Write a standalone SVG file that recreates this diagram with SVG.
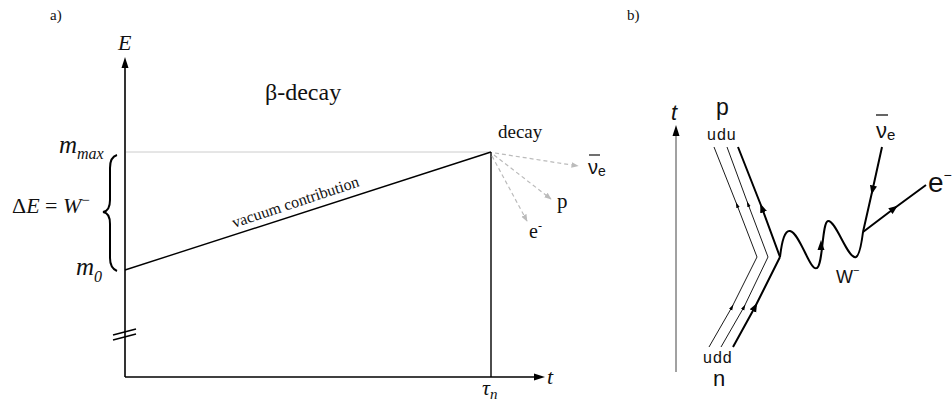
<svg xmlns="http://www.w3.org/2000/svg" width="952" height="407" viewBox="0 0 952 407">
<style>
.serif{font-family:"Liberation Serif","DejaVu Serif",serif;fill:#111}
.sans{font-family:"Liberation Sans","DejaVu Sans",sans-serif;fill:#111}
.it{font-style:italic}
.ax{stroke:#000;stroke-width:1.6;fill:none}
.thin{stroke:#000;stroke-width:0.9;fill:none}
.thick{stroke:#000;stroke-width:2;fill:none}
.dash{stroke:#bbb;stroke-width:1.2;stroke-dasharray:4 3;fill:none}
</style>
<defs>
<marker id="ah" viewBox="0 0 10 10" refX="5" refY="5" markerWidth="4.5" markerHeight="4.5" orient="auto"><path d="M0,1 L10,5 L0,9 z" fill="#000"/></marker>
<marker id="ahs" viewBox="0 0 10 10" refX="5" refY="5" markerWidth="6.5" markerHeight="6.5" orient="auto"><path d="M0,2 L10,5 L0,8 z" fill="#000"/></marker>
<marker id="gh" viewBox="0 0 10 10" refX="9" refY="5" markerWidth="6" markerHeight="6" orient="auto"><path d="M0,1 L10,5 L0,9 z" fill="#bbb"/></marker>
</defs>
<rect width="952" height="407" fill="#fff"/>

<!-- Panel a -->
<g id="panel-a-label"><text x="50" y="20" class="serif" font-size="15">a)</text></g>
<g id="axes-a">
<line x1="125" y1="66" x2="125" y2="377" class="ax"/>
<polygon points="125,57 121.5,68 128.5,68" fill="#000"/>
<line x1="125" y1="377" x2="535" y2="377" class="ax"/>
<polygon points="545,377 534,373.5 534,380.5" fill="#000"/>
<text x="118" y="50" class="serif it" font-size="22">E</text>
<text x="547" y="384" class="serif it" font-size="22">t</text>
<text x="482" y="395" class="serif it" font-size="22">τ<tspan font-size="15" dy="4">n</tspan></text>
<line x1="113" y1="335" x2="136" y2="329" stroke="#000" stroke-width="1.3"/>
<line x1="113" y1="340" x2="136" y2="334" stroke="#000" stroke-width="1.3"/>
</g>
<g id="title-a"><text x="265" y="100" class="serif" font-size="24">β-decay</text></g>
<g id="levels">
<line x1="126" y1="152" x2="490" y2="152" stroke="#ccc" stroke-width="1"/>
<text x="59" y="153" class="serif it" font-size="25">m<tspan font-size="16" dy="6">max</tspan></text>
<text x="76" y="275" class="serif it" font-size="25">m<tspan font-size="16" dy="7">0</tspan></text>
<text x="12" y="213" class="serif" font-size="22">Δ<tspan class="it">E</tspan> = <tspan class="it">W</tspan><tspan font-size="15" dy="-8">−</tspan></text>
<path d="M117,155 Q110,157 110,168 L110,200 Q110,211 103,212 Q110,213 110,224 L110,258 Q110,268 117,271" stroke="#000" stroke-width="2" fill="none"/>
</g>
<g id="vacuum">
<line x1="125" y1="270" x2="491" y2="152" stroke="#000" stroke-width="1.4"/>
<text transform="translate(234,228) rotate(-18.4)" class="serif" font-size="16">vacuum contribution</text>
<line x1="491" y1="152" x2="491" y2="377" stroke="#000" stroke-width="1.4"/>
</g>
<g id="decay">
<text x="498" y="138" class="serif" font-size="19">decay</text>
<line x1="495" y1="153" x2="578" y2="166" class="dash" marker-end="url(#gh)"/>
<line x1="494" y1="155" x2="551" y2="199" class="dash" marker-end="url(#gh)"/>
<line x1="492" y1="156" x2="527" y2="221" class="dash" marker-end="url(#gh)"/>
<text x="588" y="174" class="sans" font-size="20">ν<tspan font-size="14" dy="2">e</tspan></text>
<line x1="589" y1="155" x2="600" y2="155" stroke="#111" stroke-width="1.2"/>
<text x="557" y="208" class="serif" font-size="21">p</text>
<text x="529" y="238" class="serif" font-size="20">e<tspan font-size="12" dy="-8">-</tspan></text>
</g>

<!-- Panel b -->
<g id="panel-b-label"><text x="627" y="20" class="serif" font-size="15">b)</text></g>
<g id="time-axis-b">
<line x1="676" y1="135" x2="676" y2="372" stroke="#444" stroke-width="1"/>
<polygon points="676,125 672.5,136 679.5,136" fill="#000"/>
<text x="671" y="120" class="sans it" font-size="22">t</text>
</g>
<g id="proton-label">
<text x="716" y="115" class="sans" font-size="23">p</text>
<text x="707" y="140" class="sans" font-size="16" letter-spacing="1">udu</text>
</g>
<g id="neutron-label">
<text x="703" y="363" class="sans" font-size="16" letter-spacing="1">udd</text>
<text x="713" y="386" class="sans" font-size="22">n</text>
</g>
<g id="quarks">
<path d="M709,347 L732,307 L757,257" class="thin" marker-mid="url(#ahs)"/>
<path d="M757,257 L737,205 L714,147" class="thin" marker-mid="url(#ahs)"/>
<path d="M721,347 L744,307 L768,257" class="thin" marker-mid="url(#ahs)"/>
<path d="M768,257 L748,204 L727,147" class="thin" marker-mid="url(#ahs)"/>
<path d="M733,347 L755,307 L780,257" class="thick" marker-mid="url(#ah)"/>
<path d="M780,257 L762,208 L738,147" class="thick" marker-mid="url(#ah)"/>
</g>
<g id="W-boson">
<path d="M780,257 C782,240 785,230 790,231 C800,233 810,272 817,268 C823,265 822,222 828,221 C836,220 848,260 856,257 C860,255 862,240 863,232" class="thick"/>
<polygon points="821,240 817.5,250 824.5,250" fill="#000"/>
<text x="836" y="283" class="sans" font-size="18">W<tspan font-size="11" dy="-9">−</tspan></text>
</g>
<g id="leptons">
<path d="M882,147 L872.5,190 L863,232" class="thick" marker-mid="url(#ah)"/>
<path d="M863,232 L894,208.5 L926,185" class="thick" marker-mid="url(#ah)"/>
<text x="876" y="138" class="sans" font-size="22">ν<tspan font-size="15" dy="2">e</tspan></text>
<line x1="876" y1="115" x2="888" y2="115" stroke="#111" stroke-width="1.3"/>
<text x="928" y="192" class="sans" font-size="28">e<tspan font-size="14" dy="-12">−</tspan></text>
</g>
</svg>
